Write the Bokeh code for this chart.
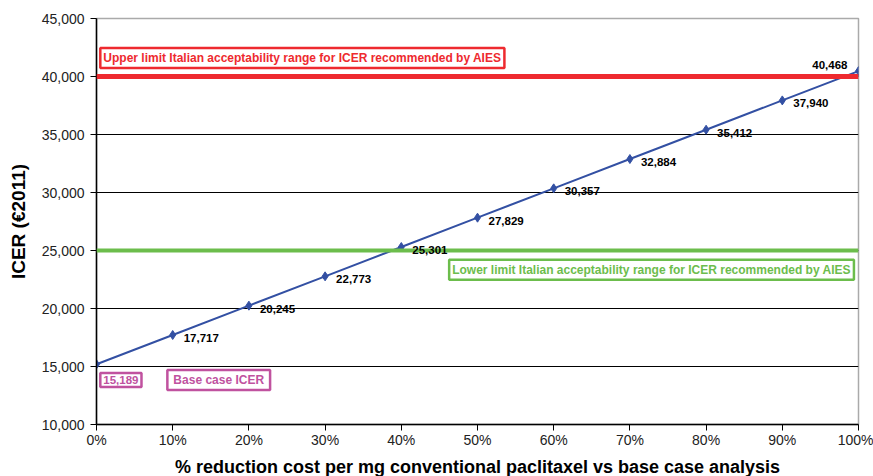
from bokeh.plotting import figure
from bokeh.models import (ColumnDataSource, Span, Label, LabelSet, NumeralTickFormatter,
                          PrintfTickFormatter, FixedTicker, Range1d)
from bokeh.core.properties import value
from bokeh.embed import file_html
from bokeh.resources import INLINE

reduction_pct = [0, 10, 20, 30, 40, 50, 60, 70, 80, 90, 100]
icer = [15189, 17717, 20245, 22773, 25301, 27829, 30357, 32884, 35412, 37940, 40468]
upper_limit = 40000
lower_limit = 25000
upper_text = "Upper limit Italian acceptability range for ICER recommended by AIES"
lower_text = "Lower limit Italian acceptability range for ICER recommended by AIES"
base_text = "Base case ICER"

FONT = "Liberation Sans"

p = figure(frame_width=762, frame_height=406, output_backend="svg", toolbar_location=None,
           x_range=Range1d(0, 100), y_range=Range1d(10000, 45000),
           min_border_left=96, min_border_right=15, min_border_top=18, min_border_bottom=10)

p.background_fill_color = "white"
p.border_fill_color = "white"
p.outline_line_color = "#AAAAAA"
p.outline_line_width = 1.5

p.xgrid.visible = False
p.ygrid.grid_line_color = "black"
p.ygrid.grid_line_width = 1
p.ygrid.ticker = FixedTicker(ticks=list(range(10000, 45001, 5000)))

p.yaxis.ticker = FixedTicker(ticks=list(range(10000, 45001, 5000)))
p.xaxis.ticker = FixedTicker(ticks=list(range(0, 101, 10)))
p.yaxis.formatter = NumeralTickFormatter(format="0,0")
p.xaxis.formatter = PrintfTickFormatter(format="%d%%")
for ax in (p.xaxis[0], p.yaxis[0]):
    ax.axis_line_color = "black"
    ax.axis_line_width = 1.5
    ax.major_tick_line_color = "black"
    ax.major_tick_out = 6
    ax.major_tick_in = 0
    ax.minor_tick_line_color = None
    ax.major_label_text_font = FONT
    ax.major_label_text_font_size = "14px"
    ax.major_label_text_color = "#222222"
    ax.axis_label_text_font = FONT
    ax.axis_label_text_font_style = "bold"
    ax.axis_label_text_color = "black"

p.yaxis.axis_label = "ICER (€2011)"
p.yaxis.axis_label_text_font_size = "19px"
p.yaxis.axis_label_standoff = 10
p.yaxis.major_label_standoff = 6
p.xaxis.axis_label = "% reduction cost per mg conventional paclitaxel vs base case analysis"
p.xaxis.axis_label_text_font_size = "18px"
p.xaxis.axis_label_standoff = 6
p.xaxis.major_label_standoff = 1

# threshold lines
p.add_layout(Span(location=upper_limit, dimension="width", line_color="#EE2A2F", line_width=5))
p.add_layout(Span(location=lower_limit, dimension="width", line_color="#6CBD4C", line_width=4))

# ICER line
src = ColumnDataSource(dict(x=reduction_pct, y=icer))
p.line("x", "y", source=src, line_color="#3350A3", line_width=2)
p.scatter("x", "y", source=src, marker="diamond", size=9, fill_color="#3350A3",
          line_color="#3350A3")

# data labels (base case and last placed separately)
mid = ColumnDataSource(dict(x=reduction_pct[1:-1], y=icer[1:-1],
                            lbl=[f"{v:,}" for v in icer[1:-1]]))
p.add_layout(LabelSet(x="x", y="y", text="lbl", source=mid, x_offset=11, y_offset=-3,
                      text_font=value(FONT), text_font_size=value("11.5px"),
                      text_font_style=value("bold"),
                      text_color=value("black"), text_baseline=value("middle"),
                      text_align=value("left")))
p.add_layout(Label(x=reduction_pct[-1], y=icer[-1], text=f"{icer[-1]:,}", x_offset=-11,
                   y_offset=6, text_font=FONT, text_font_size="11.5px",
                   text_font_style="bold", text_color="black",
                   text_baseline="middle", text_align="right"))

# boxed annotations
def boxed(x, y, text, color, align, size="12px", pad=3):
    return Label(x=x, y=y, text=text, text_font=FONT, text_font_size=size,
                 text_font_style="bold", text_color=color, text_align=align,
                 text_baseline="middle", border_line_color=color, border_line_width=2.5,
                 background_fill_color="white", padding=pad)

p.add_layout(boxed(0.5, 41600, upper_text, "#EE2A2F", "left"))
p.add_layout(boxed(99.4, 23330, lower_text, "#6CBD4C", "right"))
p.add_layout(boxed(0.5, 13830, f"{icer[0]:,}", "#C0529F", "left", "11.5px"))
p.add_layout(boxed(9.3, 13830, base_text, "#C0529F", "left", "12px", (6, 3)))

open("out.html", "w").write(file_html(p, INLINE))
